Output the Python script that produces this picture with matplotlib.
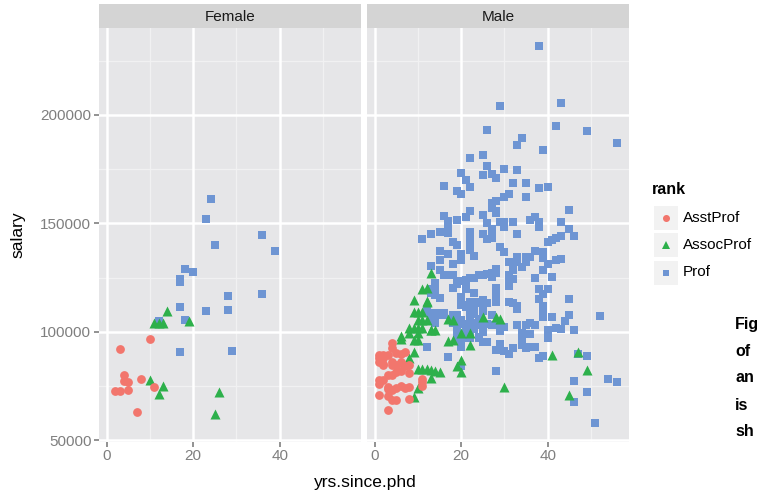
import matplotlib

matplotlib.use("Agg")
import matplotlib.pyplot as plt
from matplotlib.patches import Rectangle

plt.rcParams["font.family"] = ["Liberation Sans", "DejaVu Sans"]

# ---- data (yrs.since.phd, salary in $1000) ----
f_asst_yrs = [10, 3, 4, 4, 5, 8, 11, 5, 2, 3, 7]
f_asst_sal = [96.8, 91.8, 80.0, 77.2, 76.8, 78.3, 74.5, 73.2, 72.5, 72.5, 62.9]
f_assoc_yrs = [14, 11, 12, 13, 19, 10, 13, 12, 26, 25]
f_assoc_sal = [109.7, 103.8, 104.2, 104.2, 104.8, 77.7, 74.9, 71.2, 72.4, 62.1]
f_prof_yrs = [24, 23, 36, 25, 39, 18, 20, 17, 17, 28, 36, 17, 23, 28, 12, 18, 17, 29]
f_prof_sal = [161.1, 151.8, 144.5, 139.8, 137.1, 128.8, 127.4, 124.3, 122.8, 116.3,
              117.2, 111.2, 109.4, 109.8, 104.9, 105.2, 90.5, 90.9]

m_asst_yrs = [4, 4, 1, 2, 3, 1, 2, 5, 6, 7, 2, 2, 4, 5, 6, 8, 5, 6, 8, 3, 4, 1, 2,
              11, 11, 11, 3, 3, 4, 5, 6, 7, 8, 1, 4, 5, 8, 3, 1, 1, 4, 6, 3, 7]
m_asst_sal = [94.6, 92.3, 89.2, 89.2, 89.2, 88.0, 88.0, 90.2, 89.6, 90.8, 85.0, 84.5,
              84.5, 84.5, 85.5, 84.6, 81.5, 82.0, 80.8, 80.0, 80.0, 77.7, 77.7, 78.0,
              76.8, 75.0, 74.5, 73.5, 73.0, 74.0, 75.0, 74.0, 74.5, 70.8, 68.6, 68.6,
              69.0, 63.9, 76.0, 86.0, 86.0, 86.0, 70.5, 84.0]
m_assoc_yrs = [13, 11, 12, 9, 12, 9, 10, 11, 10, 11, 12, 8, 9, 10, 11, 13, 14, 17, 6,
               22, 6, 8, 10, 9, 10, 9, 8, 10, 11, 12, 13, 14, 13, 10, 9, 17, 22, 20,
               19, 20, 15, 12, 18, 13, 20, 18, 25, 28, 29, 41, 47, 49, 30, 45]
m_assoc_sal = [126.9, 119.6, 120.0, 114.5, 114.0, 109.0, 109.0, 109.0, 105.4, 105.4,
               105.4, 101.7, 101.7, 101.7, 101.7, 100.7, 100.7, 105.7, 97.9, 99.3,
               96.5, 99.3, 99.3, 96.2, 96.2, 90.8, 87.7, 83.0, 83.0, 83.0, 82.5, 82.0,
               78.5, 73.9, 70.0, 95.8, 93.9, 86.9, 84.2, 81.5, 81.5, 113.8, 105.4,
               100.8, 99.3, 96.2, 106.9, 106.6, 105.7, 89.1, 90.5, 82.2, 74.3, 70.9]
m_prof_yrs = [
    26, 25, 22, 26, 25, 27, 20, 21, 16, 22, 19, 20,
    38, 29, 43, 42, 49, 56, 34, 33, 39, 30, 33, 28,
    32, 35, 38, 40, 30, 31, 35, 28, 27, 28, 45, 29, 30, 30, 32, 36, 37, 38, 38, 43,
    45, 46, 43, 42, 41, 40, 33, 27, 27, 27, 29, 30, 37, 39, 39, 33, 35, 36, 31, 33,
    35, 42, 43, 40, 34, 32, 39, 28, 28, 27, 27, 31, 31, 31, 32, 37, 41, 38, 40, 39,
    28, 28, 28, 38, 45, 31, 32, 33, 39,
    41, 45, 44, 52, 42, 43, 46, 40, 40, 39, 39, 33, 33, 35, 36, 37, 34, 34, 36, 29,
    30, 28, 27, 29, 28, 30, 31, 32, 34, 35, 36, 37, 38, 39, 47, 49, 28, 46, 46, 49,
    54, 56, 51,
    16, 17, 17, 17, 19, 21, 22, 25, 26, 27, 28, 11, 13, 15, 22, 22, 25, 26, 18, 19,
    22, 22, 15, 20, 20, 17, 15, 23, 18, 13, 15, 16, 18, 23, 26, 27, 20, 21, 19, 18,
    21, 23, 13, 13, 15, 25, 24, 26, 20, 21, 12, 14, 15, 16, 18, 19, 21, 23, 23, 25,
    27, 13, 14, 20, 20, 24, 24, 26, 19, 21, 23, 25, 19, 21, 24,
    12, 17, 20, 20, 20, 25, 24, 21,
    17, 21, 21, 19, 22, 24, 25, 14, 14, 13, 14, 15, 12, 20, 21, 22, 23, 24, 25, 22,
    22, 14, 15, 16, 13, 14, 18, 19, 20, 19, 23, 22, 24, 25, 19, 20, 22, 26]
m_prof_sal = [
    192.9, 181.4, 180.0, 176.3, 172.2, 172.6, 173.1, 169.9, 167.1, 166.6, 164.8, 163.4,
    231.7, 204.0, 205.4, 194.8, 192.5, 186.9, 189.2, 186.0, 183.7, 174.9, 174.5, 170.8,
    168.5, 168.5, 166.2, 166.6, 162.0, 163.4, 162.0, 160.2, 157.0, 155.6, 156.0, 150.5,
    150.5, 148.5, 150.5, 151.4, 152.8, 150.5, 148.5, 150.5, 147.3, 144.0, 144.0, 143.1,
    142.2, 141.3, 145.0, 147.3, 145.4, 143.1, 139.0, 136.6, 137.1, 136.6, 133.9, 134.5,
    134.5, 134.5, 132.0, 132.0, 132.0, 133.0, 133.4, 131.1, 129.7, 128.3, 128.3, 128.8,
    127.0, 127.2, 125.4, 126.0, 124.2, 121.0, 124.2, 124.6, 125.1, 119.6, 119.6, 117.3,
    120.0, 117.0, 113.8, 115.0, 115.0, 113.6, 113.1, 111.7, 111.7,
    106.6, 107.6, 104.8, 107.1, 101.6, 101.1, 100.6, 100.6, 97.0, 110.0, 106.9, 110.3,
    103.0, 103.0, 103.9, 103.0, 99.3, 97.7, 98.8, 100.2, 102.0, 103.0, 103.0, 94.2,
    91.4, 90.9, 89.6, 92.4, 93.7, 92.4, 92.9, 92.9, 87.7, 88.6, 89.6, 88.6, 81.7, 77.1,
    67.4, 72.0, 78.0, 76.6, 57.7,
    153.4, 150.9, 148.5, 145.4, 151.4, 152.8, 155.6, 153.7, 150.0, 159.3, 154.7, 142.6,
    144.9, 145.9, 145.9, 143.1, 144.9, 142.6, 141.3, 139.9, 139.9, 137.6, 137.1, 135.7,
    133.0, 135.7, 133.0, 134.8, 131.1, 130.2, 128.3, 126.0, 126.0, 124.6, 126.5, 126.5,
    123.2, 123.2, 121.9, 120.0, 119.6, 117.7, 119.6, 117.7, 115.4, 114.5, 113.1, 113.1,
    112.2, 111.3, 109.4, 107.8, 107.8, 107.8, 107.6, 107.6, 103.5, 109.9, 108.1, 109.4,
    107.6, 105.2, 103.9, 105.2, 103.4, 105.7, 103.9, 103.4, 101.1, 101.1, 101.1, 99.7,
    97.0, 97.4, 97.4,
    93.1, 88.5, 95.8, 93.1, 84.2, 95.4, 97.0, 97.0,
    126.2, 123.9, 121.5, 122.3, 124.6, 126.2, 126.2, 122.3, 120.0, 119.2, 116.9, 115.4,
    109.2, 115.9, 112.2, 113.5, 113.5, 113.5, 114.0, 109.2, 106.9, 108.5, 108.5, 108.5,
    105.4, 105.4, 104.0, 104.0, 103.9, 100.8, 103.9, 100.8, 103.1, 103.1, 96.2, 96.2,
    97.0, 95.4]

panels = [
    ("Female", f_prof_yrs, f_prof_sal, f_assoc_yrs, f_assoc_sal, f_asst_yrs, f_asst_sal),
    ("Male", m_prof_yrs, m_prof_sal, m_assoc_yrs, m_assoc_sal, m_asst_yrs, m_asst_sal),
]

ranks = ["AsstProf", "AssocProf", "Prof"]
COLORS = {"AsstProf": "#F2766D", "AssocProf": "#2DB04B", "Prof": "#6E95D3"}
MARKERS = {"AsstProf": ("o", 40), "AssocProf": ("^", 52), "Prof": ("s", 33)}

PANEL_BG = "#E6E6E8"
STRIP_BG = "#D4D4D4"
MINOR = "#F1F1F2"
GREY50 = "#7F7F7F"

W, H = 758, 496
fig = plt.figure(figsize=(W / 100, H / 100), dpi=100)


def fx(px):
    return px / W


def fy(py):
    return 1 - py / H


panel_left = [99, 367]
panel_w = 262
top, bottom = 27.8, 442
xlim = (-1.75, 58.75)
ylim = (49.113, 240.232)

for i, (name, py_, ps_, ay_, as_, sy_, ss_) in enumerate(panels):
    ax = fig.add_axes([fx(panel_left[i]), fy(bottom), panel_w / W, (bottom - top) / H])
    ax.set_facecolor(PANEL_BG)
    for sp in ax.spines.values():
        sp.set_visible(False)
    ax.set_xlim(*xlim)
    ax.set_ylim(*ylim)
    for v in (10, 30, 50):
        ax.axvline(v, color=MINOR, lw=0.9, zorder=0)
    for v in (75, 125, 175, 225):
        ax.axhline(v, color=MINOR, lw=0.9, zorder=0)
    for v in (0, 20, 40):
        ax.axvline(v, color="white", lw=1.8, zorder=0)
    for v in (50, 100, 150, 200):
        ax.axhline(v, color="white", lw=1.8, zorder=0)

    for r, xs, ys in (("Prof", py_, ps_), ("AssocProf", ay_, as_), ("AsstProf", sy_, ss_)):
        m, s = MARKERS[r]
        ax.scatter(xs, ys, marker=m, s=s, color=COLORS[r], linewidths=0, zorder=3)

    ax.set_xticks([0, 20, 40])
    ax.set_xticklabels(["0", "20", "40"])
    ax.tick_params(axis="x", colors=GREY50, labelcolor=GREY50, labelsize=11,
                   length=3.5, width=1.2, pad=1.5)
    if i == 0:
        ax.set_yticks([50, 100, 150, 200])
        ax.set_yticklabels(["50000", "100000", "150000", "200000"])
        ax.tick_params(axis="y", colors=GREY50, labelcolor=GREY50, labelsize=11,
                       length=3.5, width=1.2, pad=2)
    else:
        ax.set_yticks([50, 100, 150, 200])
        ax.tick_params(axis="y", length=0, labelleft=False)

    strip = fig.add_axes([fx(panel_left[i]), fy(top), panel_w / W, (top - 4) / H])
    strip.set_facecolor(STRIP_BG)
    strip.set_xticks([])
    strip.set_yticks([])
    for sp in strip.spines.values():
        sp.set_visible(False)
    strip.text(0.5, 0.45, name, ha="center", va="center", fontsize=11, color="#1A1A1A",
               transform=strip.transAxes)

fig.text(fx(365), fy(483), "yrs.since.phd", ha="center", va="center", fontsize=12.5)
fig.text(fx(18), fy(235), "salary", ha="center", va="center", rotation=90, fontsize=12.5)

# legend
fig.text(fx(652), fy(190), "rank", ha="left", va="center", fontsize=11.5, fontweight="bold")
key_y = [217.5, 245, 272.5]
for r, ky in zip(ranks, key_y):
    fig.patches.append(Rectangle((fx(654), fy(ky + 12)), 24 / W, 24 / H,
                                 transform=fig.transFigure, facecolor="#F2F2F2",
                                 edgecolor="none"))
    m, s = MARKERS[r]
    fig.lines.append(plt.Line2D([fx(666)], [fy(ky)], transform=fig.transFigure,
                                marker=m, markersize=(s ** 0.5) * 0.8, color=COLORS[r],
                                markeredgewidth=0, linestyle="none"))
    fig.text(fx(683), fy(ky), r, ha="left", va="center", fontsize=11)

# caption fragments at the right edge
for word, py in zip(["Fig", "of", "an", "is", "sh"], [325, 352, 378, 405, 432]):
    fig.text(fx(735), fy(py), word, ha="left", va="center", fontsize=11.5,
             fontweight="bold", color="black")

fig.savefig("out.png", dpi=100)
